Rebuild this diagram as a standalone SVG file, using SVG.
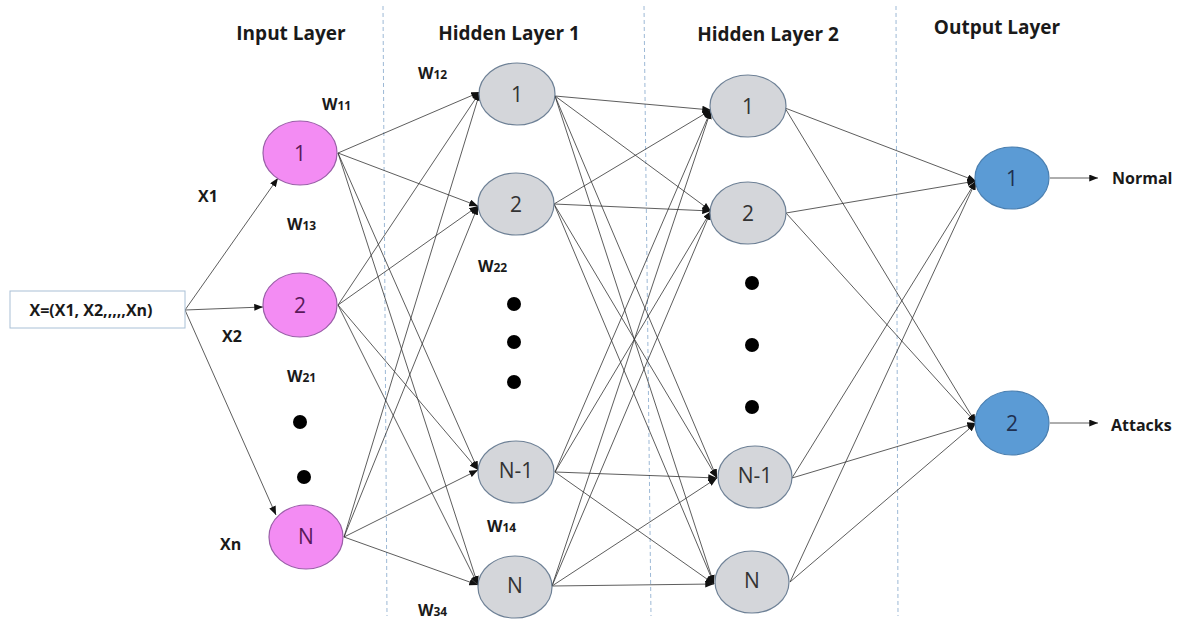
<svg xmlns="http://www.w3.org/2000/svg" width="1184" height="624" viewBox="0 0 1184 624">
<defs>
<marker id="ah" viewBox="0 0 10 8" refX="10" refY="4" markerWidth="9" markerHeight="7" markerUnits="userSpaceOnUse" orient="auto">
<path d="M0,0 L10,4 L0,8 Z" fill="#111"/>
</marker>
<style>
.t{font-family:"Open Sans",Lato,"Liberation Sans",sans-serif;font-weight:bold;fill:#1a1a1a}
.title{font-size:19px;text-anchor:middle}
.lab{font-size:16px}
.sub{font-size:12px}
.num{font-family:"Open Sans",Lato,"Liberation Sans",sans-serif;font-size:21px;text-anchor:middle}
.c{stroke:#333;stroke-width:0.8;fill:none;marker-end:url(#ah)}
.pink{fill:#F38CF3;stroke:#9A5FA8;stroke-width:1.2}
.grey{fill:#D4D6DA;stroke:#6E8196;stroke-width:1.2}
.blue{fill:#5B9BD5;stroke:#4A7FB0;stroke-width:1.2}
.dash{stroke:#9DB9D6;stroke-width:1;stroke-dasharray:4 3}
.dot{fill:#000}
</style>
</defs>
<rect width="1184" height="624" fill="#fff"/>
<g id="separators">
<line class="dash" x1="383" y1="6" x2="387" y2="616"/>
<line class="dash" x1="644" y1="6" x2="651" y2="616"/>
<line class="dash" x1="896" y1="6" x2="898" y2="616"/>
</g>
<g id="titles">
<text class="t title" x="291" y="40">Input Layer</text>
<text class="t title" x="509" y="40">Hidden Layer 1</text>
<text class="t title" x="768" y="41">Hidden Layer 2</text>
<text class="t title" x="997" y="34">Output Layer</text>
</g>
<g id="connectors">
<line class="c" x1="185" y1="310" x2="278" y2="178"/>
<line class="c" x1="185" y1="310" x2="263" y2="307"/>
<line class="c" x1="185" y1="310" x2="276" y2="515"/>
<line class="c" x1="338" y1="153" x2="480" y2="92"/>
<line class="c" x1="338" y1="153" x2="478" y2="206"/>
<line class="c" x1="338" y1="153" x2="478" y2="470"/>
<line class="c" x1="338" y1="153" x2="478" y2="585"/>
<line class="c" x1="338" y1="305" x2="480" y2="92"/>
<line class="c" x1="338" y1="305" x2="478" y2="206"/>
<line class="c" x1="338" y1="305" x2="478" y2="470"/>
<line class="c" x1="338" y1="305" x2="478" y2="585"/>
<line class="c" x1="344" y1="537" x2="480" y2="92"/>
<line class="c" x1="344" y1="537" x2="478" y2="206"/>
<line class="c" x1="344" y1="537" x2="478" y2="470"/>
<line class="c" x1="344" y1="537" x2="478" y2="585"/>
<line class="c" x1="555" y1="96" x2="711" y2="110"/>
<line class="c" x1="555" y1="96" x2="711" y2="211"/>
<line class="c" x1="555" y1="96" x2="717" y2="478"/>
<line class="c" x1="555" y1="96" x2="714" y2="584"/>
<line class="c" x1="554" y1="204" x2="711" y2="110"/>
<line class="c" x1="554" y1="204" x2="711" y2="211"/>
<line class="c" x1="554" y1="204" x2="717" y2="478"/>
<line class="c" x1="554" y1="204" x2="714" y2="584"/>
<line class="c" x1="555" y1="472" x2="711" y2="110"/>
<line class="c" x1="555" y1="472" x2="711" y2="211"/>
<line class="c" x1="555" y1="472" x2="717" y2="478"/>
<line class="c" x1="555" y1="472" x2="714" y2="584"/>
<line class="c" x1="552" y1="586" x2="711" y2="110"/>
<line class="c" x1="552" y1="586" x2="711" y2="211"/>
<line class="c" x1="552" y1="586" x2="717" y2="478"/>
<line class="c" x1="552" y1="586" x2="714" y2="584"/>
<line class="c" x1="785" y1="108" x2="976" y2="181"/>
<line class="c" x1="785" y1="108" x2="976" y2="423"/>
<line class="c" x1="786" y1="213" x2="976" y2="181"/>
<line class="c" x1="786" y1="213" x2="976" y2="423"/>
<line class="c" x1="792" y1="478" x2="976" y2="181"/>
<line class="c" x1="792" y1="478" x2="976" y2="423"/>
<line class="c" x1="790" y1="582" x2="976" y2="181"/>
<line class="c" x1="790" y1="582" x2="976" y2="423"/>
<line class="c" x1="1050" y1="178" x2="1098" y2="178"/>
<line class="c" x1="1050" y1="423" x2="1098" y2="423"/>
</g>
<g id="input-vector">
<rect x="10" y="291" width="175" height="37" fill="#fff" stroke="#A9C0D6" stroke-width="1"/>
<text class="t" x="91" y="316" font-size="16" text-anchor="middle">X=(X1, X2,,,,,Xn)</text>
</g>
<g id="in1"><ellipse class="pink" cx="300" cy="153" rx="37" ry="32"/><text class="num" x="300" y="161" fill="#5A1A5A">1</text></g>
<g id="in2"><ellipse class="pink" cx="300" cy="305" rx="37" ry="32"/><text class="num" x="300" y="313" fill="#5A1A5A">2</text></g>
<g id="inN"><ellipse class="pink" cx="306" cy="537" rx="37" ry="32"/><text class="num" x="306" y="544" fill="#5A1A5A" font-size="18">N</text></g>
<g id="h1-1"><ellipse class="grey" cx="517" cy="94" rx="38" ry="31"/><text class="num" x="517" y="102" fill="#333">1</text></g>
<g id="h1-2"><ellipse class="grey" cx="516" cy="204" rx="38" ry="31"/><text class="num" x="516" y="212" fill="#333">2</text></g>
<g id="h1-n1"><ellipse class="grey" cx="516" cy="472" rx="38" ry="31"/><text class="num" x="516" y="478" fill="#333" font-size="14">N-1</text></g>
<g id="h1-n"><ellipse class="grey" cx="515" cy="587" rx="37" ry="31"/><text class="num" x="515" y="593" fill="#333" font-size="16">N</text></g>
<g id="h2-1"><ellipse class="grey" cx="748" cy="106" rx="38" ry="31"/><text class="num" x="748" y="114" fill="#333">1</text></g>
<g id="h2-2"><ellipse class="grey" cx="748" cy="213" rx="38" ry="31"/><text class="num" x="748" y="221" fill="#333">2</text></g>
<g id="h2-n1"><ellipse class="grey" cx="755" cy="477" rx="37" ry="31"/><text class="num" x="755" y="483" fill="#333" font-size="14">N-1</text></g>
<g id="h2-n"><ellipse class="grey" cx="752" cy="582" rx="37" ry="31"/><text class="num" x="752" y="588" fill="#333" font-size="16">N</text></g>
<g id="out1"><ellipse class="blue" cx="1012" cy="178" rx="37" ry="31"/><text class="num" x="1012" y="186" fill="#1F3050">1</text></g>
<g id="out2"><ellipse class="blue" cx="1012" cy="423" rx="37" ry="32"/><text class="num" x="1012" y="431" fill="#1F3050">2</text></g>
<g id="dots">
<circle class="dot" cx="300" cy="422" r="7"/>
<circle class="dot" cx="304" cy="477" r="7"/>
<circle class="dot" cx="514" cy="304" r="7"/>
<circle class="dot" cx="514" cy="342" r="7"/>
<circle class="dot" cx="514" cy="382" r="7"/>
<circle class="dot" cx="752" cy="283" r="7"/>
<circle class="dot" cx="752" cy="345" r="7"/>
<circle class="dot" cx="752" cy="407" r="7"/>
</g>
<g id="labels">
<text class="t lab" x="322" y="110">W<tspan class="sub">11</tspan></text>
<text class="t lab" x="418" y="79">W<tspan class="sub">12</tspan></text>
<text class="t lab" x="198" y="202">X1</text>
<text class="t lab" x="287" y="230">W<tspan class="sub">13</tspan></text>
<text class="t lab" x="478" y="272">W<tspan class="sub">22</tspan></text>
<text class="t lab" x="222" y="342">X2</text>
<text class="t lab" x="287" y="382">W<tspan class="sub">21</tspan></text>
<text class="t lab" x="220" y="550">Xn</text>
<text class="t lab" x="487" y="532">W<tspan class="sub">14</tspan></text>
<text class="t lab" x="418" y="616">W<tspan class="sub">34</tspan></text>
<text class="t lab" x="1112" y="184">Normal</text>
<text class="t lab" x="1111" y="431">Attacks</text>
</g>
</svg>
